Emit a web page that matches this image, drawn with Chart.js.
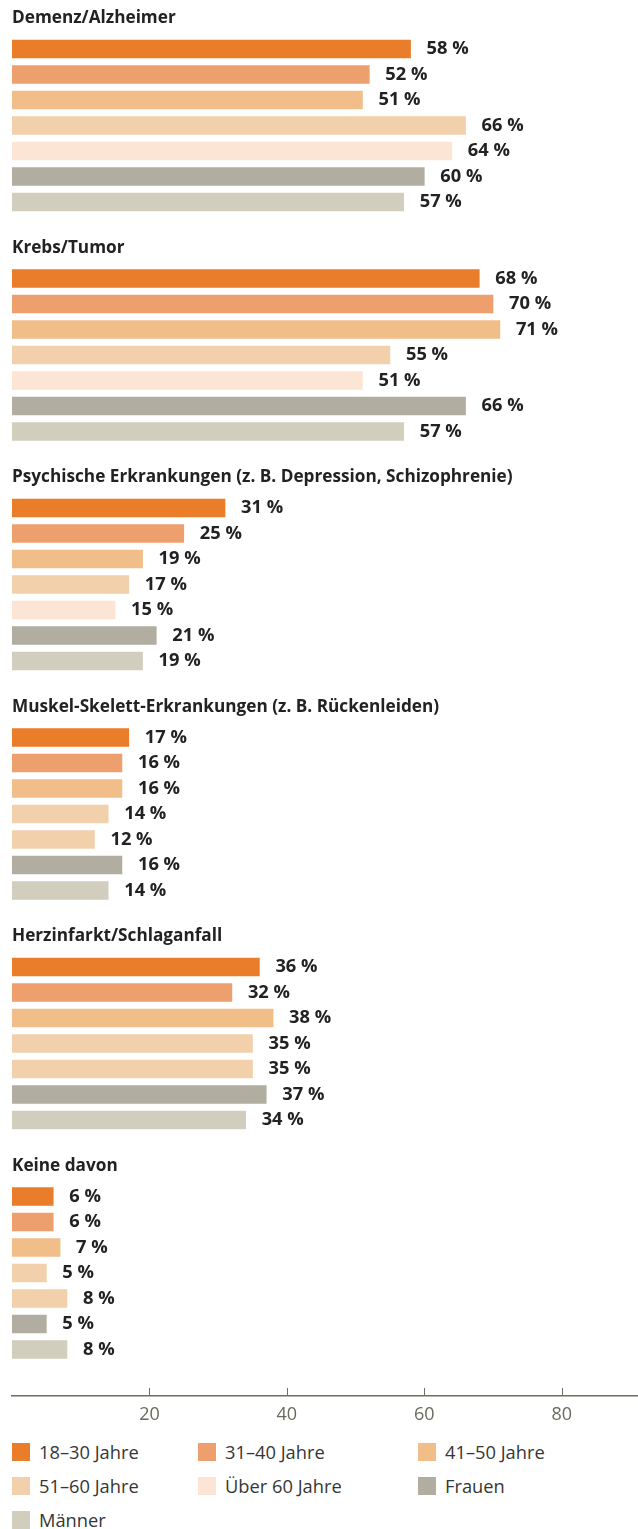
<!DOCTYPE html>
<html lang="de">
<head>
<meta charset="utf-8">
<title>Erkrankungen nach Altersgruppe und Geschlecht</title>
<script src="https://cdn.jsdelivr.net/npm/chart.js@4.4.1/dist/chart.umd.min.js"></script>
<style>
    html, body { margin: 0; padding: 0; background: #fff; }
    body { width: 638px; height: 1529px; overflow: hidden; font-family: "Open Sans", sans-serif; }
    #wrap { position: relative; width: 638px; height: 1426px; }
    #legend {
        position: absolute; top: 1443px; left: 12px;
        display: grid; grid-template-columns: 186px 220px 200px; grid-auto-rows: 34px;
        font-size: 18.3px; color: #363636;
    }
    .item { display: flex; align-items: flex-start; height: 34px; }
    .sw { width: 18px; height: 18px; margin-right: 9px; flex: none; }
    .item span { line-height: 18px; }
</style>
</head>
<body>
<div id="wrap"><canvas id="chart"></canvas></div>
<div id="legend"></div>
<script>
// Disease categories (one group of bars each)
const categories = [
    'Demenz/Alzheimer',
    'Krebs/Tumor',
    'Psychische Erkrankungen (z. B. Depression, Schizophrenie)',
    'Muskel-Skelett-Erkrankungen (z. B. Rückenleiden)',
    'Herzinfarkt/Schlaganfall',
    'Keine davon'
];

// Respondent groups, in bar order within each category
const seriesNames = ['18–30 Jahre', '31–40 Jahre', '41–50 Jahre', '51–60 Jahre', 'Über 60 Jahre', 'Frauen', 'Männer'];

// Percentages per respondent group, one value per category
const age18to30 = [58, 68, 31, 17, 36, 6];
const age31to40 = [52, 70, 25, 16, 32, 6];
const age41to50 = [51, 71, 19, 16, 38, 7];
const age51to60 = [66, 55, 17, 14, 35, 5];
const ageOver60 = [64, 51, 15, 12, 35, 8];
const women     = [60, 66, 21, 16, 37, 5];
const men       = [57, 57, 19, 14, 34, 8];

const xTicks = [20, 40, 60, 80];

const seriesValues = [age18to30, age31to40, age41to50, age51to60, ageOver60, women, men];
const seriesColors = ['#E97D29', '#EDA06D', '#F1BE8A', '#F2D0AB', '#FDE5D5', '#B1AEA1', '#D1CEBD'];
// the "Über 60" bars switch to the 51–60 shade in the last three blocks
const barColors = seriesColors.map((c, s) =>
    s === 4 ? categories.map((_, g) => (g >= 3 ? seriesColors[3] : c)) : c);

// layout: 9 rows per block (title row + 7 bars + gap), rows are 25.5px apart
const ROWS_PER_GROUP = 9;
const ROW_PX = 25.5;
const FIRST_ROW_PX = 23.5;
const AXIS_Y = 1396;
const AXIS_H = 30;

const datasets = seriesValues.map((vals, s) => ({
    label: seriesNames[s],
    data: vals.map((v, g) => ({ x: v, y: g * ROWS_PER_GROUP + s + 1 })),
    backgroundColor: barColors[s],
    barThickness: 18,
    grouped: false,
    borderWidth: 0
}));

const FONT = '"Open Sans", sans-serif';

// group titles above each block of bars
const titlePlugin = {
    id: 'groupTitles',
    afterDatasetsDraw(chart) {
        const { ctx, chartArea, scales } = chart;
        ctx.save();
        ctx.font = `bold 17.2px ${FONT}`;
        ctx.fillStyle = '#222';
        ctx.textBaseline = 'middle';
        categories.forEach((name, g) => {
            const y = scales.y.getPixelForValue(g * ROWS_PER_GROUP) - 5;
            ctx.fillText(name, chartArea.left, y);
        });
        ctx.restore();
    }
};

// percentage labels right of each bar
const valuePlugin = {
    id: 'valueLabels',
    afterDatasetsDraw(chart) {
        const { ctx } = chart;
        ctx.save();
        ctx.font = `bold 18.3px ${FONT}`;
        ctx.fillStyle = '#222';
        ctx.textBaseline = 'middle';
        chart.data.datasets.forEach((ds, i) => {
            chart.getDatasetMeta(i).data.forEach((bar, j) => {
                ctx.fillText(ds.data[j].x + ' %', bar.x + 16, bar.y);
            });
        });
        ctx.restore();
    }
};

// short tick marks pointing up from the x axis
const tickMarkPlugin = {
    id: 'upTicks',
    afterDraw(chart) {
        const { ctx, chartArea, scales } = chart;
        ctx.save();
        ctx.strokeStyle = '#6f6d5c';
        ctx.lineWidth = 1;
        xTicks.forEach(t => {
            const x = Math.round(scales.x.getPixelForValue(t)) + 0.5;
            ctx.beginPath();
            ctx.moveTo(x, chartArea.bottom - 8);
            ctx.lineTo(x, chartArea.bottom);
            ctx.stroke();
        });
        ctx.restore();
    }
};

new Chart(document.getElementById('chart'), {
    type: 'bar',
    data: { datasets },
    options: {
        indexAxis: 'y',
        responsive: true,
        maintainAspectRatio: false,
        animation: false,
        layout: { padding: { top: 0, left: 12, right: 0, bottom: 0 } },
        scales: {
            x: {
                type: 'linear',
                min: 0,
                max: 91.1,
                afterBuildTicks: scale => { scale.ticks = xTicks.map(v => ({ value: v })); },
                afterFit: scale => { scale.height = AXIS_H; },
                grid: { display: true, drawOnChartArea: false, drawTicks: false },
                border: { display: true, color: '#6f6d5c', width: 1.5 },
                ticks: { color: '#6b6a5e', padding: 8, font: { family: FONT, size: 18 } }
            },
            y: {
                type: 'linear',
                reverse: true,
                display: false,
                offset: false,
                min: (0 - FIRST_ROW_PX) / ROW_PX,
                max: (AXIS_Y - FIRST_ROW_PX) / ROW_PX
            }
        },
        plugins: {
            legend: { display: false },
            tooltip: { enabled: false }
        }
    },
    plugins: [titlePlugin, valuePlugin, tickMarkPlugin]
});

// legend below the axis
const legend = document.getElementById('legend');
seriesNames.forEach((name, s) => {
    const item = document.createElement('div');
    item.className = 'item';
    item.innerHTML = `<div class="sw" style="background:${seriesColors[s]}"></div><span>${name}</span>`;
    legend.appendChild(item);
});
</script>
</body>
</html>
